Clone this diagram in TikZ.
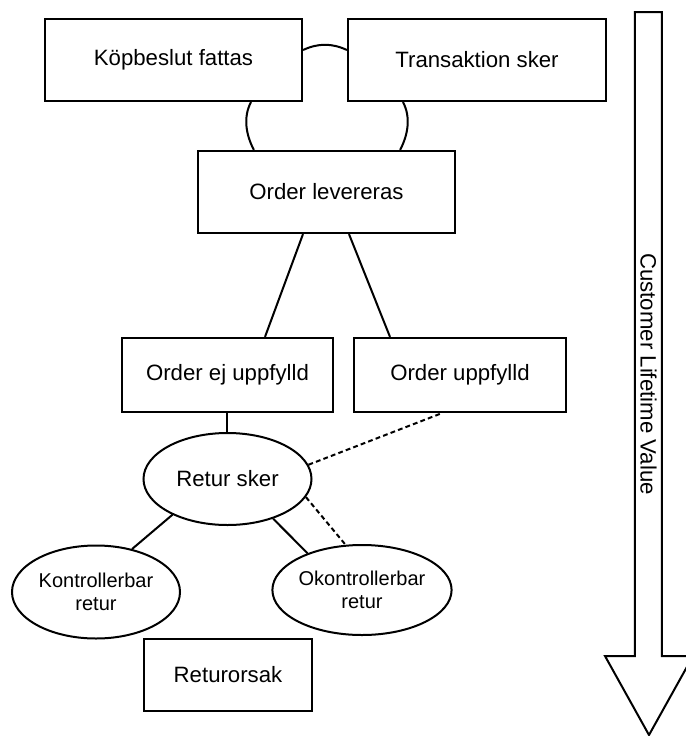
\documentclass[tikz,border=0pt]{standalone}
\usepackage{fontspec}
\setmainfont{Liberation Sans}
\usetikzlibrary{shapes.geometric,calc}

\begin{document}
\begin{tikzpicture}[x=0.5pt,y=-0.5pt,
  box/.style={draw,line width=1.1pt,inner sep=0pt,font=\fontsize{11.1}{13}\selectfont},
  oval/.style={draw,ellipse,line width=1pt,inner sep=0pt,align=center,font=\fontsize{10}{11.5}\selectfont},
  link/.style={line width=1pt},
  hint/.style={line width=1pt,dash pattern=on 2.4pt off 1.6pt}]
\useasboundingbox (0,0) rectangle (686,736);
\clip (0,0) rectangle (686,736);
\node[box,minimum width=128.5pt,minimum height=41pt] (a) at (173.5,60) {Köpbeslut fattas};
\node[box,minimum width=129pt,minimum height=41pt] (b) at (477,60) {Transaktion sker};
\node[box,minimum width=128.5pt,minimum height=41pt] (c) at (326.5,192) {Order levereras};
\node[box,minimum width=105.5pt,minimum height=37pt] (d) at (227.5,375) {Order ej uppfylld};
\node[box,minimum width=106pt,minimum height=37pt] (e) at (460,375) {Order uppfylld};
\node[oval,minimum width=84pt,minimum height=46pt,font=\fontsize{11.1}{13}\selectfont] (f) at (227.5,479) {Retur sker};
\node[oval,minimum width=84pt,minimum height=46.5pt] (g) at (96,592) {Kontrollerbar\\retur};
\node[oval,minimum width=83pt,minimum height=45pt] (h) at (362,590) {Okontrollerbar\\retur};
\node[box,minimum width=84pt,minimum height=36pt] (i) at (228,675) {Returorsak};
\draw[link] ($(a.east)+(0,-10)$) .. controls +(15,-7) and +(-15,-7) .. ($(b.west)+(0,-10)$);
\draw[link] ($(a.south)+(77.5,0)$) .. controls +(-8,15) and +(-8,-15) .. ($(c.north west)+(57,0)$);
\draw[link] ($(b.south)+(-74,0)$) .. controls +(8,15) and +(8,-15) .. ($(c.north east)+(-56,0)$);
\draw[link] ($(c.south)+(-23.5,0)$) -- ($(d.north)+(37.5,0)$);
\draw[link] ($(c.south)+(22.5,0)$) -- ($(e.north)+(-70,0)$);
\draw[link] (d.south) -- (f.north);
\draw[hint] (f.10) -- ($(e.south)+(-18,0)$);
\draw[hint] (f.-13) -- (h.110);
\draw[link] (f.213) -- (g.50);
\draw[link] (f.-41) -- (h.146);
\draw[line width=1pt] (635,12) -- (662,12) -- (662,656) -- (693,656) -- (649,735) -- (605,656) -- (635,656) -- cycle;
\node[rotate=-90,font=\fontsize{11.1}{13}\selectfont] (clv) at (648.5,374) {Customer Lifetime Value};
\end{tikzpicture}
\end{document}
